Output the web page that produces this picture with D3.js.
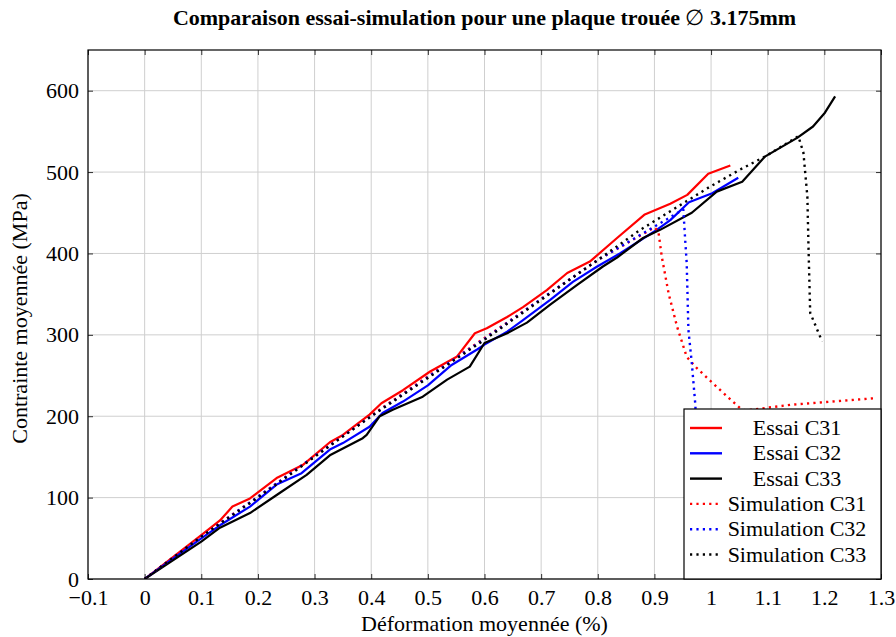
<!DOCTYPE html>
<html>
<head>
<meta charset="utf-8">
<script src="https://cdn.jsdelivr.net/npm/d3@7"></script>
<style>
  body { margin: 0; background: #fff; }
  svg text { font-family: "Liberation Serif", "Times New Roman", serif; }
</style>
</head>
<body>
<svg id="chart" width="896" height="637"></svg>
<script>
// ---- Data ----
const xTicks = [-0.1, 0, 0.1, 0.2, 0.3, 0.4, 0.5, 0.6, 0.7, 0.8, 0.9, 1, 1.1, 1.2, 1.3];
const yTicks = [0, 100, 200, 300, 400, 500, 600];

const essaiC31 = [[0,0],[0.1,54],[0.133,72],[0.155,89],[0.186,99],[0.233,124],[0.279,140],[0.327,168],[0.35,177],[0.397,202],[0.418,216],[0.456,232],[0.504,255],[0.551,273],[0.583,302],[0.604,308],[0.64,322],[0.668,334],[0.71,355],[0.746,376],[0.786,390],[0.834,419],[0.883,448],[0.928,461],[0.958,472],[0.995,498],[1.034,508]];
const essaiC32 = [[0,0],[0.1,50],[0.133,66],[0.186,89],[0.233,116],[0.277,130],[0.327,159],[0.35,167],[0.397,187],[0.42,204],[0.456,218],[0.5,238],[0.542,263],[0.587,282],[0.6,288],[0.64,304],[0.668,318],[0.716,343],[0.756,365],[0.799,384],[0.839,400],[0.904,429],[0.928,441],[0.961,463],[1.002,474],[1.048,493]];
const essaiC33 = [[0,0],[0.1,46],[0.133,63],[0.186,81],[0.239,106],[0.286,128],[0.327,152],[0.385,173],[0.392,177],[0.415,200],[0.438,208],[0.491,224],[0.534,245],[0.574,261],[0.6,290],[0.64,302],[0.675,315],[0.716,337],[0.763,361],[0.809,384],[0.834,395],[0.88,419],[0.91,429],[0.966,450],[1.01,476],[1.055,488],[1.095,519],[1.152,542],[1.18,556],[1.201,573],[1.219,593]];
const simC31 = [[0,0],[0.1,53],[0.2,101],[0.3,151],[0.4,201],[0.5,249],[0.6,296],[0.7,344],[0.8,392],[0.9,432],[0.907,427],[0.913,396],[0.925,351],[0.94,310],[0.957,273],[0.975,259],[1.01,236],[1.051,210],[1.06,207],[1.14,214],[1.286,222]];
const simC32 = [[0,0],[0.1,52],[0.2,101],[0.3,151],[0.4,200],[0.5,248],[0.6,295],[0.7,344],[0.8,392],[0.9,433],[0.951,454],[0.954,420],[0.957,388],[0.96,306],[0.966,265],[0.972,216],[0.976,170]];
const simC33 = [[0,0],[0.1,52],[0.2,100],[0.3,150],[0.4,200],[0.5,247],[0.6,294],[0.7,343],[0.8,392],[0.875,429],[0.998,482],[1.051,503],[1.095,519],[1.154,544],[1.163,524],[1.17,470],[1.172,408],[1.175,327],[1.196,292]];

const seriesNames = ["Essai C31","Essai C32","Essai C33","Simulation C31","Simulation C32","Simulation C33"];
const seriesColors = ["#ff0000","#0000ff","#000000","#ff0000","#0000ff","#000000"];
const seriesDashed = [false,false,false,true,true,true];
const seriesData = [essaiC31, essaiC32, essaiC33, simC31, simC32, simC33];

const titleText = "Comparaison essai-simulation pour une plaque trouée";
const titleSymbol = "∅";
const titleTail = " 3.175mm";
const xLabel = "Déformation moyennée (%)";
const yLabel = "Contrainte moyennée (MPa)";

// ---- Layout ----
const L = 88, R = 881, T = 50, B = 579;
const FS = 22;
const svg = d3.select("#chart");
const x = d3.scaleLinear().domain([-0.1, 1.3]).range([L, R]);
const y = d3.scaleLinear().domain([0, 650]).range([B, T]);

// grid
const grid = svg.append("g");
grid.selectAll(".gx").data(xTicks).enter().append("line")
  .attr("x1", d => x(d)).attr("x2", d => x(d)).attr("y1", T).attr("y2", B)
  .attr("stroke", "#cfcfcf").attr("stroke-width", 1);
grid.selectAll(".gy").data(yTicks).enter().append("line")
  .attr("y1", d => y(d)).attr("y2", d => y(d)).attr("x1", L).attr("x2", R)
  .attr("stroke", "#cfcfcf").attr("stroke-width", 1);

// lines
svg.append("clipPath").attr("id", "clip").append("rect")
  .attr("x", L).attr("y", T).attr("width", R - L).attr("height", B - T);
const line = d3.line().x(d => x(d[0])).y(d => y(d[1]));
const lines = svg.append("g").attr("clip-path", "url(#clip)");
seriesData.forEach((data, i) => {
  lines.append("path").datum(data)
    .attr("d", line)
    .attr("fill", "none")
    .attr("stroke", seriesColors[i])
    .attr("stroke-width", seriesDashed[i] ? 2.4 : 2.2)
    .attr("stroke-linejoin", "round")
    .attr("stroke-dasharray", seriesDashed[i] ? "2.2,4.2" : null);
});

// axes (ticks inward on all sides)
const fmt = d => d < 0 ? "\u2212" + Math.abs(d) : String(d);
const xAxisB = d3.axisBottom(x).tickValues(xTicks).tickSize(-5).tickPadding(10).tickFormat(fmt);
const xAxisT = d3.axisTop(x).tickValues(xTicks).tickSize(-5).tickFormat("");
const yAxisL = d3.axisLeft(y).tickValues(yTicks).tickSize(-5).tickPadding(9);
const yAxisR = d3.axisRight(y).tickValues(yTicks).tickSize(-5).tickFormat("");

function style(g) {
  g.select(".domain").remove();
  g.selectAll(".tick line").attr("stroke", "#000").attr("stroke-width", 0.8);
  g.selectAll("text").attr("font-family", "'Liberation Serif', serif").attr("font-size", FS).attr("fill", "#000");
}
svg.append("g").attr("transform", `translate(0,${B})`).call(xAxisB).call(style);
svg.append("g").attr("transform", `translate(0,${T})`).call(xAxisT).call(style);
svg.append("g").attr("transform", `translate(${L},0)`).call(yAxisL).call(style);
svg.append("g").attr("transform", `translate(${R},0)`).call(yAxisR).call(style);

// frame
svg.append("rect").attr("x", L).attr("y", T).attr("width", R - L).attr("height", B - T)
  .attr("fill", "none").attr("stroke", "#000").attr("stroke-width", 1.2);

// legend
const lgX = 684, lgY = 409, lgW = R - lgX, lgH = B - lgY;
const lg = svg.append("g");
lg.append("rect").attr("x", lgX).attr("y", lgY).attr("width", lgW).attr("height", lgH)
  .attr("fill", "#fff").attr("stroke", "#000").attr("stroke-width", 1.2);
seriesNames.forEach((name, i) => {
  const cy = lgY + 19 + i * 25.3;
  lg.append("line").attr("x1", 690).attr("x2", 722).attr("y1", cy).attr("y2", cy)
    .attr("stroke", seriesColors[i]).attr("stroke-width", 2.4)
    .attr("stroke-dasharray", seriesDashed[i] ? "2.2,4.2" : null);
  lg.append("text").attr("x", 797).attr("y", cy + 7).attr("text-anchor", "middle")
    .attr("font-size", FS).attr("fill", "#000").text(name);
});

// title and axis labels
const title = svg.append("text").attr("x", (L + R) / 2).attr("y", 25).attr("text-anchor", "middle")
  .attr("font-size", FS).attr("font-weight", "bold").attr("fill", "#000");
title.append("tspan").text(titleText + " ");
title.append("tspan").attr("font-weight", "normal").text(titleSymbol);
title.append("tspan").text(titleTail);

svg.append("text").attr("x", (L + R) / 2).attr("y", 631).attr("text-anchor", "middle")
  .attr("font-size", FS).attr("fill", "#000").text(xLabel);
svg.append("text").attr("transform", `translate(27,${(T + B) / 2 + 4}) rotate(-90)`)
  .attr("text-anchor", "middle").attr("font-size", FS).attr("fill", "#000").text(yLabel);
</script>
</body>
</html>
